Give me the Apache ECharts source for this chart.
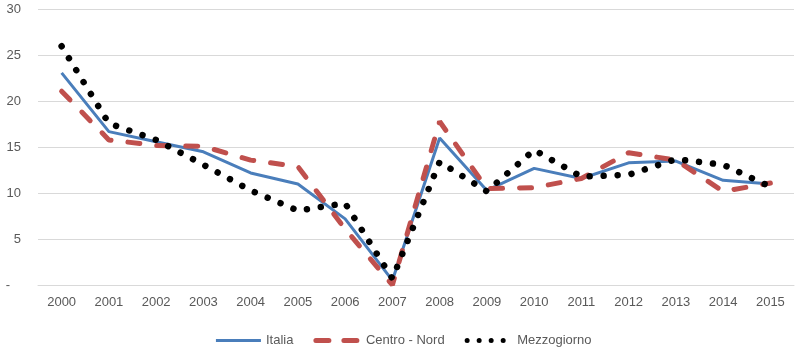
<!DOCTYPE html>
<html>
<head>
<meta charset="utf-8">
<script src="https://cdn.jsdelivr.net/npm/echarts@6/dist/echarts.min.js"></script>
<style>
    html, body { margin: 0; padding: 0; background: #fff; }
    #chart { width: 806px; height: 353px; }
</style>
</head>
<body>
<div id="chart"></div>
<script>
const years = ['2000', '2001', '2002', '2003', '2004', '2005', '2006', '2007',
    '2008', '2009', '2010', '2011', '2012', '2013', '2014', '2015'];
const italia = [23.1, 16.7, 15.6, 14.5, 12.2, 11.0, 7.2, 0.5, 16.0, 10.3, 12.7, 11.6, 13.3, 13.5, 11.4, 11.0];
const centroNord = [21.1, 15.8, 15.2, 15.1, 13.6, 12.9, 6.1, 0.0, 17.8, 10.5, 10.6, 11.6, 14.4, 13.6, 10.2, 11.1];
const mezzogiorno = [26.0, 17.6, 15.8, 13.1, 10.3, 8.1, 8.9, 0.7, 13.4, 10.2, 14.7, 11.8, 12.0, 13.7, 13.1, 10.7];

const chart = echarts.init(document.getElementById('chart'));
const textColor = '#595959';
const font = 'Liberation Sans';

let option = {
    animation: false,
    grid: {
        left: 38,
        right: 12,
        top: 9.5,
        bottom: 68
    },
    legend: {
        bottom: 1,
        left: 'center',
        itemWidth: 45,
        itemHeight: 10,
        itemGap: 20,
        itemStyle: { opacity: 0 },
        textStyle: { color: textColor, fontFamily: font, fontSize: 13 },
        data: [
            { name: 'Italia', lineStyle: { width: 3 } },
            { name: 'Centro - Nord', lineStyle: { width: 5, type: [13, 15], cap: 'round' } },
            { name: 'Mezzogiorno', lineStyle: { width: 5, type: [0.01, 12], cap: 'round' } }
        ]
    },
    xAxis: {
        type: 'category',
        data: years,
        axisLine: { lineStyle: { color: '#D9D9D9' } },
        axisTick: { show: false },
        axisLabel: { color: textColor, fontFamily: font, fontSize: 13, margin: 11 }
    },
    yAxis: {
        type: 'value',
        min: 0,
        max: 30,
        interval: 5,
        axisLine: { show: false },
        axisTick: { show: false },
        splitLine: { lineStyle: { color: '#D9D9D9' } },
        axisLabel: {
            color: textColor, fontFamily: font, fontSize: 13, margin: 17,
            formatter: function (v) {
                return v === 0 ? '-   ' : v;
            }
        }
    },
    series: [{
        name: 'Italia',
        type: 'line',
        data: italia,
        symbol: 'none',
        color: '#4A7EBB',
        lineStyle: { width: 3, color: '#4A7EBB' }
    }, {
        name: 'Centro - Nord',
        type: 'line',
        data: centroNord,
        symbol: 'none',
        color: '#C0504D',
        lineStyle: { width: 5, color: '#C0504D', type: [12, 17], cap: 'round' }
    }, {
        name: 'Mezzogiorno',
        type: 'line',
        data: mezzogiorno,
        symbol: 'none',
        color: '#000000',
        lineStyle: { width: 6.5, color: '#000000', type: [0.01, 14], cap: 'round' }
    }]
};

chart.setOption(option);
</script>
</body>
</html>
